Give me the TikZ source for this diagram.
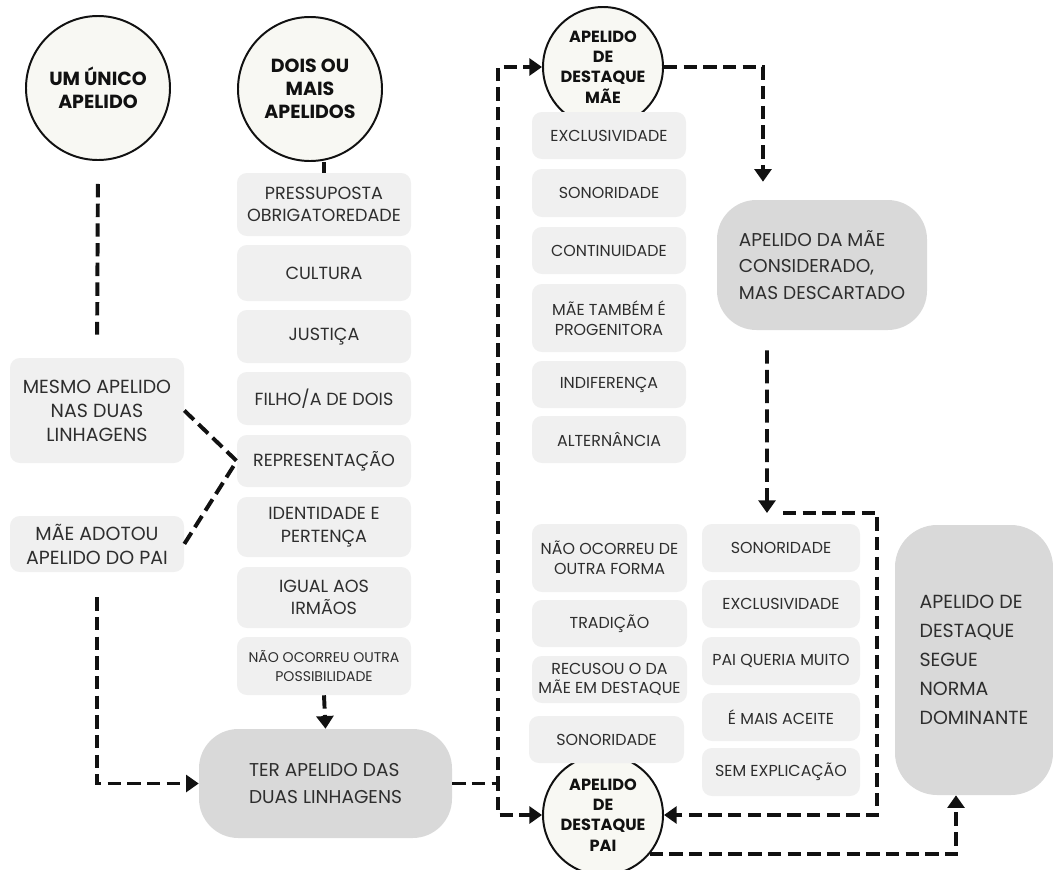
\documentclass[tikz,border=0pt]{standalone}
\usepackage{fontspec}
\setmainfont{Poppins}
\usetikzlibrary{arrows.meta}
\definecolor{lightbox}{HTML}{F0F0F0}
\definecolor{darkbox}{HTML}{D9D9D9}
\definecolor{bubblefill}{HTML}{F8F8F3}
\definecolor{ink}{HTML}{2E2E2E}
\definecolor{inkdark}{HTML}{111111}
\begin{document}
\begin{tikzpicture}[x=0.025cm, y=-0.025cm,
	link/.style={draw=inkdark, line width=2.8pt, dash pattern=on 9.5pt off 4.5pt},
	tip/.style={-{Triangle[width=12pt,length=9pt]}},
	pill/.style 2 args={rectangle, rounded corners=7pt, fill=lightbox, text=ink, align=center, inner sep=1pt, minimum width=#1*\px, minimum height=#2*\px},
	bigpill/.style 2 args={rectangle, rounded corners=28pt, fill=darkbox, text=ink, align=left, inner sep=1pt, minimum width=#1*\px, minimum height=#2*\px, font=\fontsize{13.2}{19}\selectfont},
	bubble/.style={circle, draw=inkdark, line width=1.4pt, fill=bubblefill, text=inkdark, align=center, inner sep=0pt, minimum size=#1*\px, font=\bfseries\fontsize{13.5}{16.5}\selectfont},
	smallbubble/.style={bubble=#1, font=\bfseries\fontsize{11.5}{14.5}\selectfont},
	midtext/.style={font=\fontsize{12.5}{16}\selectfont},
	sidetext/.style={font=\fontsize{13.5}{17}\selectfont},
	coltext/.style={font=\fontsize{11.3}{14}\selectfont}]
		\def\px{0.025cm}
		\useasboundingbox (0,0) rectangle (1053,869);
		\node[bubble=144] (um) at (98,88) {UM ÚNICO\\APELIDO};
		\node[bubble=144] (dois) at (310,89) {DOIS OU\\MAIS\\APELIDOS};
		\node[smallbubble=120] (mae) at (603,67) {APELIDO\\DE\\DESTAQUE\\MÃE};
		\node[smallbubble=120] (pai) at (603,815) {APELIDO\\DE\\DESTAQUE\\PAI};
		\node[pill={174}{105}, sidetext] (l1) at (97,410.5) {MESMO APELIDO\\NAS DUAS\\LINHAGENS};
		\node[pill={174}{56}, sidetext] (l2) at (97,544) {MÃE ADOTOU\\APELIDO DO PAI};
		\node[pill={174}{63}, midtext] (c1) at (324,204.5) {PRESSUPOSTA\\OBRIGATOREDADE};
		\node[pill={174}{56}, midtext] (c2) at (324,273) {CULTURA};
		\node[pill={174}{53}, midtext] (c3) at (324,336.5) {JUSTIÇA};
		\node[pill={174}{53}, midtext] (c4) at (324,398.5) {FILHO/A DE DOIS};
		\node[pill={174}{52}, midtext] (c5) at (324,461) {REPRESENTAÇÃO};
		\node[pill={174}{60}, midtext] (c6) at (324,527) {IDENTIDADE E\\PERTENÇA};
		\node[pill={174}{61}, midtext] (c7) at (324,597.5) {IGUAL AOS\\IRMÃOS};
		\node[pill={174}{58}, font=\fontsize{10}{13}\selectfont] (c8) at (324,666) {NÃO OCORREU OUTRA\\POSSIBILIDADE};
		\node[bigpill={253}{109}] (ter) at (325.5,783.5) {TER APELIDO DAS\\DUAS LINHAGENS\hspace{1.5em}};
		\node[pill={154}{47}, coltext] (m1) at (609,135.5) {EXCLUSIVIDADE};
		\node[pill={154}{48}, coltext] (m2) at (609,193) {SONORIDADE};
		\node[pill={154}{47}, coltext] (m3) at (609,250.5) {CONTINUIDADE};
		\node[pill={154}{68}, coltext] (m4) at (609,318) {MÃE TAMBÉM É\\PROGENITORA};
		\node[pill={154}{47}, coltext] (m5) at (609,384.5) {INDIFERENÇA};
		\node[pill={154}{47}, coltext] (m6) at (609,439.5) {ALTERNÂNCIA};
		\node[bigpill={210}{130}] (desc) at (822,265) {APELIDO DA MÃE\\CONSIDERADO,\\MAS DESCARTADO};
		\node[pill={155}{68}, coltext] (p1) at (609.5,558) {NÃO OCORREU DE\\OUTRA FORMA};
		\node[pill={155}{47}, coltext] (p2) at (609.5,623.5) {TRADIÇÃO};
		\node[pill={155}{47}, coltext] (p3) at (609.5,679.5) {RECUSOU O DA\\MÃE EM DESTAQUE};
		\node[pill={155}{47}, coltext] (p4) at (606.5,739.5) {SONORIDADE};
		\node[pill={158}{48}, coltext] (q1) at (781,548) {SONORIDADE};
		\node[pill={158}{48}, coltext] (q2) at (781,604) {EXCLUSIVIDADE};
		\node[pill={158}{48}, coltext] (q3) at (781,661) {PAI QUERIA MUITO};
		\node[pill={158}{48}, coltext] (q4) at (781,717) {É MAIS ACEITE};
		\node[pill={158}{48}, coltext] (q5) at (781,772) {SEM EXPLICAÇÃO};
		\node[bigpill={158}{270}, rounded corners=30pt, font=\fontsize{13.5}{20.5}\selectfont] (norma) at (974,660) {APELIDO DE\\DESTAQUE\\SEGUE\\NORMA\\DOMINANTE};
		\coordinate (split) at (498,783);
		\coordinate (turn) at (767,513);
		\coordinate (rt) at (877,513);
		\draw[link, shorten <=0.575cm, shorten >=0.575cm] (um.south) -- (l1.north);
		\draw[link] (dois.south -| c1.north) -- (c1.north);
		\draw[link] (l1.east) -- (c5.west) -- (l2.east);
		\draw[link, tip] ([yshift=-0.625cm]l2.south) |- (ter.west);
		\draw[link, tip] (c8.south) -- (ter.north);
		\draw[link, tip] (ter.east) -| (split |- mae.west) -- (mae.west);
		\draw[link, tip] (ter.east) -| (split |- pai.west) -- (pai.west);
		\draw[link, tip, shorten >=0.45cm] (mae.east) -| ([xshift=-1.475cm]desc.north);
		\draw[link, tip] ([xshift=-1.375cm, yshift=-0.5cm]desc.south) -- (turn);
		\draw[link, tip] ([xshift=0.4cm]turn) -- (rt) |- (pai.east);
		\draw[link, tip] (pai.-40) -| ([xshift=-0.45cm]norma.south);
	\end{tikzpicture}
\end{document}
